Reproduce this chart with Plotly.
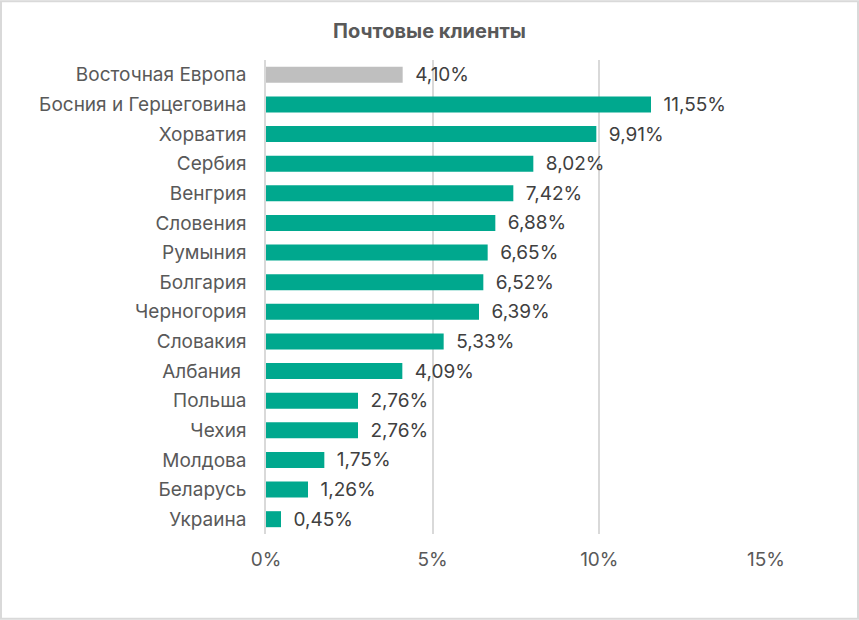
import plotly.graph_objects as go

# данные: доля почтовых клиентов по странам
countries = ["Восточная Европа", "Босния и Герцеговина", "Хорватия", "Сербия",
             "Венгрия", "Словения", "Румыния", "Болгария", "Черногория",
             "Словакия", "Албания ", "Польша", "Чехия", "Молдова", "Беларусь",
             "Украина"]
shares = [4.10, 11.55, 9.91, 8.02, 7.42, 6.88, 6.65, 6.52, 6.39,
          5.33, 4.09, 2.76, 2.76, 1.75, 1.26, 0.45]
x_ticks = [0, 5, 10, 15]
x_tick_labels = ["0%", "5%", "10%", "15%"]

colors = ["#BFBFBF"] + ["#00A88E"] * (len(countries) - 1)
labels = ["\u2002" + f"{v:.2f}".replace(".", ",") + "%" for v in shares]

FONT = "Inter"

fig = go.Figure(go.Bar(
    x=shares, y=countries, orientation="h",
    marker=dict(color=colors, line=dict(width=0)),
    text=labels, textposition="outside", cliponaxis=False,
    constraintext="none",
    textfont=dict(family=FONT, size=19, color="#404040"),
    width=0.54,
))

fig.update_layout(
    width=859, height=620,
    margin=dict(l=266, r=93, t=60, b=86),
    paper_bgcolor="white", plot_bgcolor="white",
    font=dict(family=FONT, size=19, color="#595959"),
    title=dict(text="<b>Почтовые клиенты</b>", x=0.5, xref="container",
               xanchor="center", y=0.95, yref="container", yanchor="middle",
               font=dict(family=FONT, size=20, color="#595959")),
    showlegend=False,
    xaxis=dict(range=[0, 15], tickvals=x_ticks, ticktext=x_tick_labels,
               showgrid=True, gridcolor="#D9D9D9", gridwidth=1.5,
               zeroline=False, showline=False, ticks="",
               ticklabelstandoff=12,
               tickfont=dict(size=19, color="#595959")),
    yaxis=dict(autorange="reversed", showgrid=False, zeroline=False,
               showline=True, linecolor="#D9D9D9", linewidth=1.5,
               ticks="", ticklabelstandoff=14,
               tickfont=dict(size=19, color="#595959")),
    shapes=[dict(type="rect", xref="paper", yref="paper",
                 x0=-0.53, x1=1.184, y0=-0.179, y1=1.124,
                 line=dict(color="#D9D9D9", width=2))],
)

fig.write_html("out.html", config={"displayModeBar": False},
               post_script="document.body.style.margin='0';")
